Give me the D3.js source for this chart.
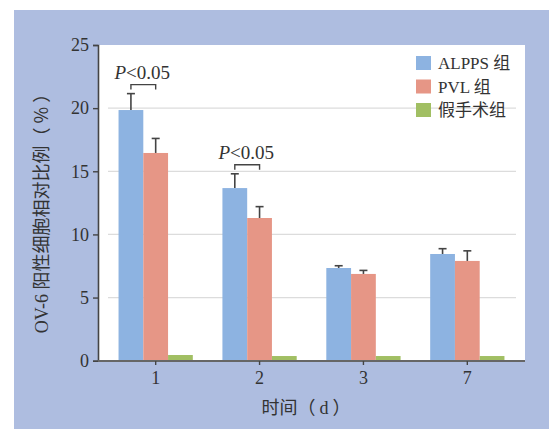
<!DOCTYPE html>
<html>
<head>
<meta charset="utf-8">
<script src="https://cdn.jsdelivr.net/npm/d3@7"></script>
<style>
  body { margin: 0; background: #fff; }
  text { font-family: "Liberation Serif", "Noto Sans CJK SC", serif; fill: #333; }
  .cjk { font-family: "Noto Sans CJK SC", sans-serif; }
</style>
</head>
<body>
<div class="graph"></div>
<script>
const days = ["1", "2", "3", "7"];
const groups = ["ALPPS 组", "PVL 组", "假手术组"];
const alppsMean = [19.85, 13.67, 7.34, 8.45];
const alppsErr = [1.3, 1.13, 0.18, 0.42];
const pvlMean = [16.45, 11.3, 6.87, 7.9];
const pvlErr = [1.15, 0.9, 0.28, 0.8];
const shamMean = [0.45, 0.37, 0.37, 0.37];
const yTicks = [0, 5, 10, 15, 20, 25];
const sigDays = ["1", "2"];

const colors = ["#8db3e1", "#e69686", "#a1bf63"];

let width = 549;
let height = 429;

let svg = d3.select(".graph")
  .append("svg")
  .attr("width", width)
  .attr("height", height);

// blue panel behind the plot
svg.append("rect")
  .attr("x", 14).attr("y", 10)
  .attr("width", width - 14).attr("height", height - 10)
  .attr("fill", "#aebde0");

// white plot area
svg.append("rect")
  .attr("x", 98).attr("y", 45)
  .attr("width", 427).attr("height", 316)
  .attr("fill", "#fff");

let x = d3.scaleBand().domain(days).range([104, 519]).paddingInner(0.285).paddingOuter(0.14);
let y = d3.scaleLinear().domain([0, 25]).range([360.7, 45]);
let xs = d3.scaleBand().domain([0, 1, 2]).range([0, x.bandwidth()]);

// gridlines
svg.selectAll(".grid")
  .data(yTicks.filter(d => d > 0 && d < 25))
  .enter().append("line")
  .attr("x1", 108).attr("x2", 516)
  .attr("y1", d => y(d)).attr("y2", d => y(d))
  .attr("stroke", "#dcdcdc").attr("stroke-width", 1.2);

const series = [alppsMean, pvlMean, shamMean];
const errs = [alppsErr, pvlErr, null];

series.forEach((vals, si) => {
  svg.selectAll(".bar" + si)
    .data(days)
    .enter().append("rect")
    .attr("x", d => x(d) + xs(si))
    .attr("y", (d, i) => y(vals[i]))
    .attr("width", xs.bandwidth())
    .attr("height", (d, i) => y(0) - y(vals[i]))
    .attr("fill", colors[si]);

  if (errs[si]) {
    let e = svg.selectAll(".err" + si)
      .data(days)
      .enter().append("g")
      .attr("stroke", "#444").attr("stroke-width", 1.6);
    e.append("line")
      .attr("x1", d => x(d) + xs(si) + xs.bandwidth() / 2)
      .attr("x2", d => x(d) + xs(si) + xs.bandwidth() / 2)
      .attr("y1", (d, i) => y(vals[i]))
      .attr("y2", (d, i) => y(vals[i] + errs[si][i]));
    e.append("line")
      .attr("x1", d => x(d) + xs(si) + xs.bandwidth() / 2 - 4)
      .attr("x2", d => x(d) + xs(si) + xs.bandwidth() / 2 + 4)
      .attr("y1", (d, i) => y(vals[i] + errs[si][i]))
      .attr("y2", (d, i) => y(vals[i] + errs[si][i]));
  }
});

// significance brackets
sigDays.forEach(d => {
  let i = days.indexOf(d);
  let x1 = x(d) + xs(0) + xs.bandwidth() / 2;
  let x2 = x(d) + xs(1) + xs.bandwidth() / 2;
  let top = y(alppsMean[i] + alppsErr[i]) - 9;
  svg.append("path")
    .attr("d", "M" + x1 + "," + (top + 5) + "V" + top + "H" + x2 + "V" + (top + 5))
    .attr("fill", "none").attr("stroke", "#444").attr("stroke-width", 1.4);
  let t = svg.append("text")
    .attr("x", (x1 + x2) / 2 - 1)
    .attr("y", top - 6)
    .attr("text-anchor", "middle")
    .attr("font-family", "Liberation Serif")
    .attr("font-size", 19);
  t.append("tspan").attr("font-style", "italic").text("P");
  t.append("tspan").text("<0.05");
});

// y axis
let yAxis = svg.append("g")
  .attr("transform", "translate(98,0)")
  .call(d3.axisLeft(y).tickValues(yTicks).tickSize(5).tickPadding(4));
yAxis.select(".domain").attr("stroke", "#444").attr("stroke-width", 1.6);
yAxis.selectAll(".tick line").attr("stroke", "#444").attr("stroke-width", 1.4);
yAxis.selectAll(".tick text").attr("font-size", 18).attr("fill", "#333")
  .attr("font-family", "Liberation Serif");

// x axis
let xAxis = svg.append("g")
  .attr("transform", "translate(0,361)")
  .call(d3.axisBottom(x).tickSize(4).tickPadding(6).tickSizeOuter(0));
xAxis.select(".domain").attr("d", "M98,0H525").attr("stroke", "#666").attr("stroke-width", 2);
xAxis.selectAll(".tick line")
  .attr("transform", d => "translate(" + (xs(1) + xs.bandwidth() / 2 - x.bandwidth() / 2) + ",0)")
  .attr("stroke", "#444").attr("stroke-width", 1.4);
xAxis.selectAll(".tick text")
  .attr("transform", d => "translate(" + (xs(1) + xs.bandwidth() / 2 - x.bandwidth() / 2) + ",0)")
  .attr("font-size", 18).attr("fill", "#333").attr("font-family", "Liberation Serif");

// axis titles
let yt = svg.append("text")
  .attr("transform", "translate(48,209) rotate(-90)")
  .attr("text-anchor", "middle")
  .attr("font-size", 18);
yt.append("tspan").attr("font-family", "Liberation Serif").text("OV-6 ");
yt.append("tspan").attr("class", "cjk").text("阳性细胞相对比例（ % ）");

let xt = svg.append("text")
  .attr("x", 306).attr("y", 414)
  .attr("text-anchor", "middle")
  .attr("font-size", 18);
xt.append("tspan").attr("class", "cjk").text("时间（ ");
xt.append("tspan").attr("font-family", "Liberation Serif").text("d");
xt.append("tspan").attr("class", "cjk").text(" ）");

// legend
let legend = svg.selectAll(".legend")
  .data(groups)
  .enter().append("g")
  .attr("transform", (d, i) => "translate(416," + (56 + i * 23.5) + ")");
legend.append("rect")
  .attr("width", 15).attr("height", 14)
  .attr("fill", (d, i) => colors[i]);
legend.append("text")
  .attr("x", 22).attr("y", 13)
  .attr("font-size", 17)
  .text(d => d);
</script>
</body>
</html>
